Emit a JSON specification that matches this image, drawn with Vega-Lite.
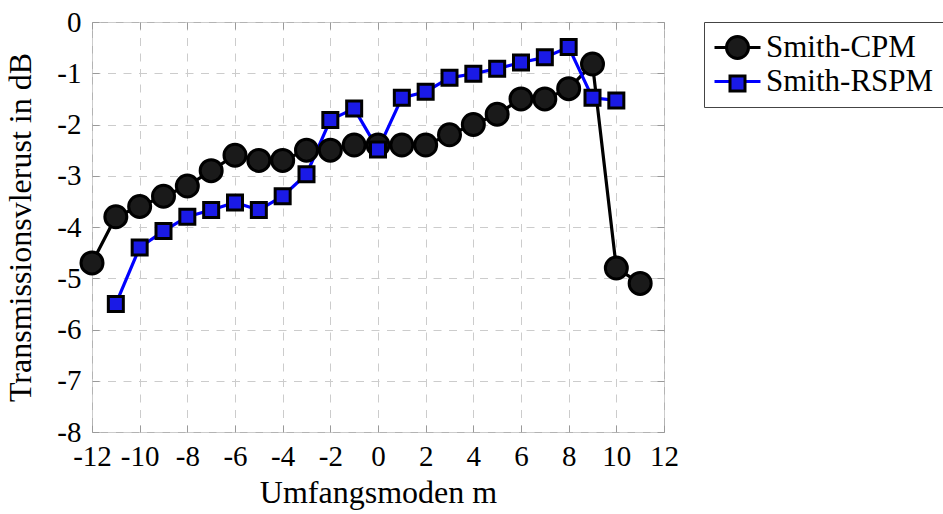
{
  "$schema": "https://vega.github.io/schema/vega-lite/v6.json",
  "width": 572,
  "height": 410,
  "autosize": {"type": "none"},
  "padding": {"left": 92, "top": 22, "right": 279, "bottom": 82},
  "background": "white",
  "config": {
    "view": {"stroke": "#b3b3b3", "strokeWidth": 1},
    "font": "Liberation Serif, serif",
    "axis": {
      "labelFont": "Liberation Serif, serif",
      "titleFont": "Liberation Serif, serif",
      "labelFontSize": 29,
      "titleFontSize": 32,
      "labelColor": "black",
      "titleColor": "black",
      "titleFontWeight": "normal",
      "domain": false,
      "tickColor": "#9a9a9a",
      "tickSize": -7,
      "gridColor": "#cccccc",
      "gridDash": [8, 7.5],
      "gridWidth": 1,
      "labelOverlap": false,
      "labelFlush": false
    },
    "legend": {
      "labelFont": "Liberation Serif, serif",
      "labelFontSize": 31,
      "labelColor": "black",
      "labelLimit": 0
    }
  },
  "data": {
    "values": [
      {"m": -12, "v": -4.7, "s": "Smith-CPM"},
      {"m": -11, "v": -3.8, "s": "Smith-CPM"},
      {"m": -10, "v": -3.6, "s": "Smith-CPM"},
      {"m": -9, "v": -3.4, "s": "Smith-CPM"},
      {"m": -8, "v": -3.2, "s": "Smith-CPM"},
      {"m": -7, "v": -2.9, "s": "Smith-CPM"},
      {"m": -6, "v": -2.6, "s": "Smith-CPM"},
      {"m": -5, "v": -2.7, "s": "Smith-CPM"},
      {"m": -4, "v": -2.7, "s": "Smith-CPM"},
      {"m": -3, "v": -2.5, "s": "Smith-CPM"},
      {"m": -2, "v": -2.5, "s": "Smith-CPM"},
      {"m": -1, "v": -2.4, "s": "Smith-CPM"},
      {"m": 0, "v": -2.4, "s": "Smith-CPM"},
      {"m": 1, "v": -2.4, "s": "Smith-CPM"},
      {"m": 2, "v": -2.4, "s": "Smith-CPM"},
      {"m": 3, "v": -2.2, "s": "Smith-CPM"},
      {"m": 4, "v": -2.0, "s": "Smith-CPM"},
      {"m": 5, "v": -1.8, "s": "Smith-CPM"},
      {"m": 6, "v": -1.5, "s": "Smith-CPM"},
      {"m": 7, "v": -1.5, "s": "Smith-CPM"},
      {"m": 8, "v": -1.3, "s": "Smith-CPM"},
      {"m": 9, "v": -0.82, "s": "Smith-CPM"},
      {"m": 10, "v": -4.8, "s": "Smith-CPM"},
      {"m": 11, "v": -5.1, "s": "Smith-CPM"},
      {"m": -11, "v": -5.5, "s": "Smith-RSPM"},
      {"m": -10, "v": -4.4, "s": "Smith-RSPM"},
      {"m": -9, "v": -4.08, "s": "Smith-RSPM"},
      {"m": -8, "v": -3.8, "s": "Smith-RSPM"},
      {"m": -7, "v": -3.67, "s": "Smith-RSPM"},
      {"m": -6, "v": -3.52, "s": "Smith-RSPM"},
      {"m": -5, "v": -3.67, "s": "Smith-RSPM"},
      {"m": -4, "v": -3.4, "s": "Smith-RSPM"},
      {"m": -3, "v": -2.97, "s": "Smith-RSPM"},
      {"m": -2, "v": -1.91, "s": "Smith-RSPM"},
      {"m": -1, "v": -1.69, "s": "Smith-RSPM"},
      {"m": 0, "v": -2.49, "s": "Smith-RSPM"},
      {"m": 1, "v": -1.48, "s": "Smith-RSPM"},
      {"m": 2, "v": -1.36, "s": "Smith-RSPM"},
      {"m": 3, "v": -1.09, "s": "Smith-RSPM"},
      {"m": 4, "v": -1.01, "s": "Smith-RSPM"},
      {"m": 5, "v": -0.91, "s": "Smith-RSPM"},
      {"m": 6, "v": -0.79, "s": "Smith-RSPM"},
      {"m": 7, "v": -0.69, "s": "Smith-RSPM"},
      {"m": 8, "v": -0.49, "s": "Smith-RSPM"},
      {"m": 9, "v": -1.48, "s": "Smith-RSPM"},
      {"m": 10, "v": -1.53, "s": "Smith-RSPM"}
    ]
  },
  "layer": [
    {
      "mark": {"type": "line", "strokeWidth": 3.2},
      "encoding": {
        "x": {
          "field": "m", "type": "quantitative",
          "scale": {"domain": [-12, 12], "nice": false, "zero": false},
          "axis": {
            "orient": "bottom",
            "values": [-12, -10, -8, -6, -4, -2, 0, 2, 4, 6, 8, 10, 12],
            "labelExpr": "'' + datum.value",
            "labelFont": "Liberation Serif, serif",
            "labelPadding": 17,
            "title": "Umfangsmoden m",
            "titlePadding": 6
          }
        },
        "y": {
          "field": "v", "type": "quantitative",
          "scale": {"domain": [-8, 0], "nice": false, "zero": false},
          "axis": {
            "orient": "left",
            "values": [-8, -7, -6, -5, -4, -3, -2, -1, 0],
            "labelExpr": "'' + datum.value",
            "labelFont": "Liberation Serif, serif",
            "labelPadding": 18,
            "title": "Transmissionsvlerust in dB",
            "titlePadding": 19
          }
        },
        "stroke": {
          "field": "s", "type": "nominal",
          "scale": {"domain": ["Smith-CPM", "Smith-RSPM"], "range": ["#000000", "#0000ff"]},
          "legend": {
            "title": null,
            "orient": "none",
            "legendX": 612,
            "legendY": 0,
            "padding": 10,
            "rowPadding": 2,
            "strokeColor": "#444444",
            "fillColor": "white",
            "symbolType": "M-2,0H2",
            "symbolSize": 529,
            "symbolStrokeWidth": 3.2,
            "symbolOffset": 8,
            "labelOffset": 13,
            "labelFont": "Liberation Serif, serif",
            "labelFontSize": 31,
            "labelLimit": 0
          }
        },
        "detail": {"field": "s"}
      }
    },
    {
      "mark": {"type": "point", "filled": true, "stroke": "black", "strokeWidth": 3, "opacity": 1},
      "encoding": {
        "x": {
          "field": "m", "type": "quantitative",
          "scale": {"domain": [-12, 12], "nice": false, "zero": false},
          "axis": {
            "orient": "top",
            "values": [-12, -10, -8, -6, -4, -2, 0, 2, 4, 6, 8, 10, 12],
            "labels": false, "grid": false, "title": null
          }
        },
        "y": {
          "field": "v", "type": "quantitative",
          "scale": {"domain": [-8, 0], "nice": false, "zero": false},
          "axis": {
            "orient": "right",
            "values": [-8, -7, -6, -5, -4, -3, -2, -1, 0],
            "labels": false, "grid": false, "title": null
          }
        },
        "fill": {
          "field": "s", "type": "nominal",
          "scale": {"domain": ["Smith-CPM", "Smith-RSPM"], "range": ["#1a1a1a", "#1a1ae6"]},
          "legend": {
            "title": null,
            "orient": "none",
            "legendX": 620,
            "legendY": 0,
            "padding": 10,
            "rowPadding": 2,
            "labelExpr": "''",
            "labelFontSize": 31,
            "symbolStrokeColor": "black",
            "symbolStrokeWidth": 3,
            "labelOffset": 0
          }
        },
        "shape": {
          "field": "s", "type": "nominal",
          "scale": {"domain": ["Smith-CPM", "Smith-RSPM"], "range": ["circle", "square"]}
        },
        "size": {
          "field": "s", "type": "nominal",
          "scale": {"domain": ["Smith-CPM", "Smith-RSPM"], "range": [484, 225]}
        }
      }
    }
  ],
  "resolve": {
    "axis": {"x": "independent", "y": "independent"},
    "legend": {"stroke": "independent", "fill": "independent", "shape": "independent", "size": "independent"}
  }
}
